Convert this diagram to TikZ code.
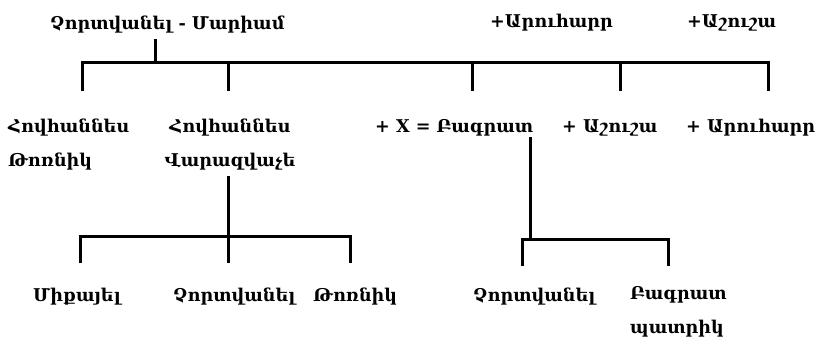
\documentclass[tikz,border=0pt]{standalone}
\usepackage{fontspec}
\setmainfont{DejaVu Serif}
\begin{document}
\begin{tikzpicture}[x=1pt,y=-1pt,
  lbl/.style={font=\bfseries\fontsize{17.6}{34}\selectfont, inner sep=0pt, anchor=base west},
  ln/.style={line width=3pt, line cap=rect, line join=miter}]
\useasboundingbox (0,0) rectangle (820,347);
% top row
\node[lbl] (root) at (50,30) {Չորտվանել - Մարիամ};
\node[lbl] (w1) at (490,28) {+Արուհարր};
\node[lbl] (w2) at (687,28) {+Աշուշա};
% second row (base anchor = baseline of last line)
\node[lbl, align=left] (c1) at (8,167) {Հովհաննես\\Թոռնիկ};
\node[lbl, align=center, anchor=base] (c2) at (230,167) {Հովհաննես\\Վարազվաչե};
\node[lbl] (c3) at (375,133) {+ X = Բագրատ};
\node[lbl] (c4) at (562,133) {+ Աշուշա};
\node[lbl] (c5) at (686,133) {+ Արուհարր};
% bottom row
\node[lbl] (g1) at (33,302) {Միքայել};
\node[lbl] (g2) at (173,302) {Չորտվանել};
\node[lbl] (g3) at (313,302) {Թոռնիկ};
\node[lbl] (g4) at (473,302) {Չորտվանել};
\node[lbl, align=left] (g5) at (630,334) {Բագրատ\\պատրիկ};
% connector points
\coordinate (rt) at (155,41);
\coordinate (bus) at (155,63);
\coordinate (b1) at (82,63);
\coordinate (b2) at (228,63);
\coordinate (b3) at (472,63);
\coordinate (b4) at (620,63);
\coordinate (b5) at (768,63);
\coordinate (dy) at (0,90);
% first generation
\draw[ln] (rt) -- (bus);
\draw[ln] (b1 |- dy) -- (b1) -- (b5) -- (b5 |- dy);
\foreach \b in {b2,b3,b4} \draw[ln] (\b) -- (\b |- dy);
% Varazvache's children
\coordinate (v0) at (228,178);
\coordinate (v1) at (228,262);
\coordinate (h1) at (80,237);
\coordinate (h2) at (350,237);
\coordinate (dv) at (0,262);
\draw[ln] (v0) -- (v1);
\draw[ln] (h1 |- dv) -- (h1) -- (h2) -- (h2 |- dv);
% Bagrat's children
\coordinate (x0) at (530,139);
\coordinate (x1) at (530,240);
\coordinate (k1) at (522,240);
\coordinate (k2) at (668,240);
\coordinate (dk) at (0,265);
\draw[ln] (x0) -- (x1);
\draw[ln] (k1 |- dk) -- (k1) -- (k2) -- (k2 |- dk);
\end{tikzpicture}
\end{document}
